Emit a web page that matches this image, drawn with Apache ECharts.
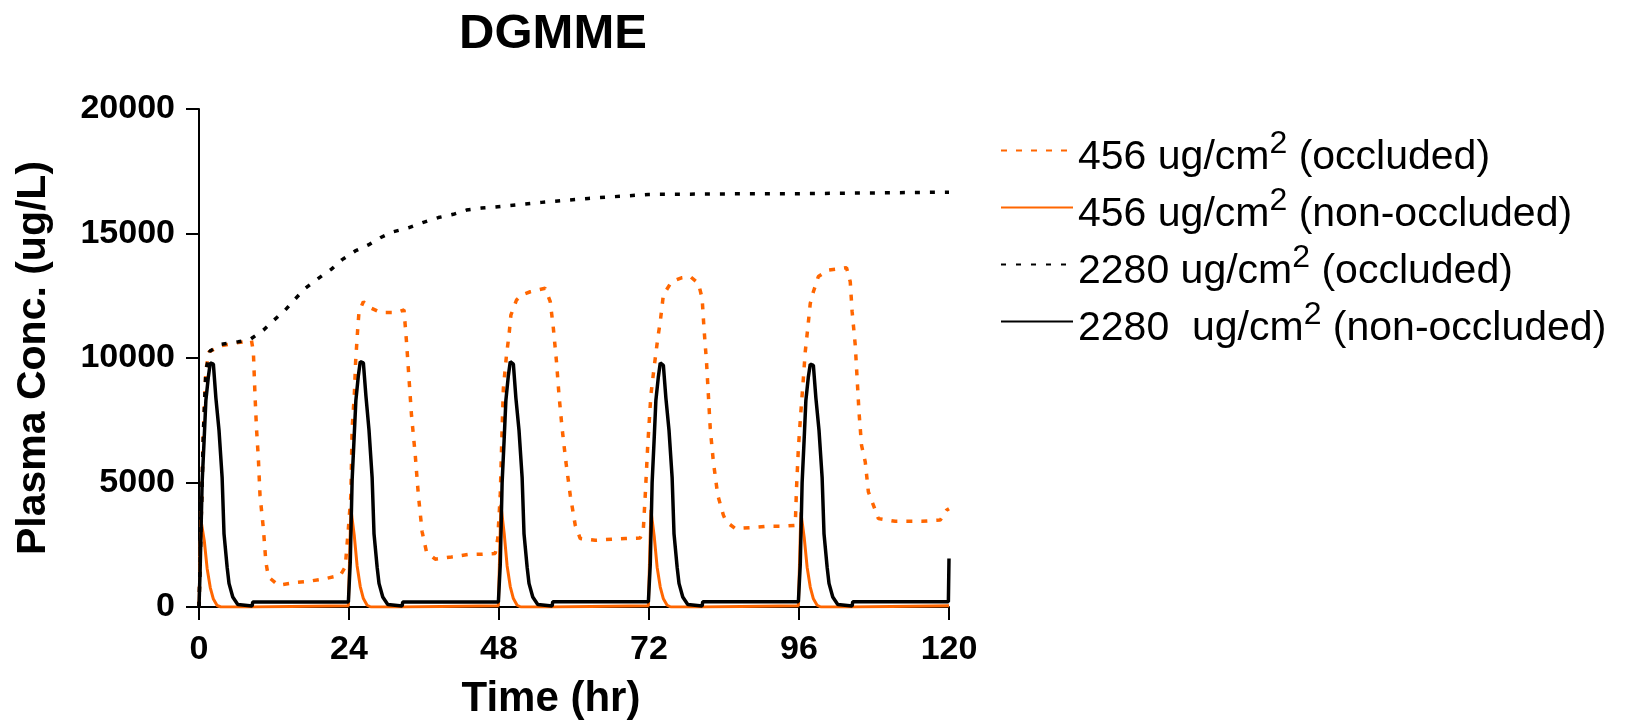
<!DOCTYPE html>
<html>
<head>
<meta charset="utf-8">
<title>DGMME</title>
<script src="https://cdn.jsdelivr.net/npm/echarts@6/dist/echarts.min.js"></script>
<style>
  html, body { margin: 0; padding: 0; background: #fff; }
  #chart_dgmme { width: 1628px; height: 726px; }
</style>
</head>
<body>
<div id="chart_dgmme"></div>
<script>
// series names (legend order)
const seriesNames = [
  '456 ug/cm2 (occluded)',
  '456 ug/cm2 (non-occluded)',
  '2280 ug/cm2 (occluded)',
  '2280  ug/cm2 (non-occluded)'
];

// x axis ticks (hr) / y axis ticks (ug/L)
const timeTicks = [0, 24, 48, 72, 96, 120];
const concTicks = [0, 5000, 10000, 15000, 20000];

// [time hr, conc ug/L]
const occluded456 = [
  [0, 0], [0.3, 3000], [0.7, 7000], [1.1, 9500], [1.6, 10250], [3.6, 10500], [6.3, 10620], [8.4, 10700],
  [8.7, 10250], [8.96, 8500], [9.2, 7170], [9.5, 5960], [9.76, 4490], [10.3, 3150], [10.7, 1810], [11.1, 1210],
  [12.7, 870], [15.4, 980], [17.5, 1030], [20.2, 1140], [22.6, 1270], [23.4, 1610], [23.9, 3150],
  [24.3, 4490], [24.5, 7170], [24.85, 8510], [25.06, 9850], [25.4, 11190], [25.6, 11860], [26.3, 12260],
  [27.1, 12060], [29.0, 11830], [31.6, 11830], [32.8, 11930], [33.2, 10650], [33.6, 9180], [34.0, 7700],
  [34.6, 6100], [35.1, 4490], [35.7, 3020], [36.4, 2210], [37.8, 1920], [40.4, 2010], [43.1, 2110],
  [45.2, 2120], [47.4, 2150], [47.8, 2750], [48.2, 4490], [48.5, 7170], [48.7, 8780], [49.2, 10120],
  [49.6, 10920], [49.9, 11720], [50.8, 12330], [51.6, 12530], [53.0, 12660], [55.4, 12800], [56.2, 12260],
  [56.7, 11190], [57.2, 9850], [57.6, 8510], [58.1, 7170], [58.7, 5830], [59.4, 4490], [60.2, 3280],
  [61.0, 2750], [63.4, 2680], [66.0, 2720], [68.2, 2750], [70.6, 2770], [71.1, 3150], [71.4, 4490],
  [71.8, 6500], [72.3, 8510], [72.8, 9580], [73.4, 10790], [73.8, 11460], [74.3, 12530], [75.6, 13060],
  [77.2, 13220], [78.6, 13270], [79.9, 13000], [80.5, 12400], [80.8, 11190], [81.2, 9850], [81.5, 8510],
  [81.8, 7170], [82.3, 5830], [83.0, 4490], [83.9, 3690], [84.4, 3420], [85.8, 3150], [88.4, 3190],
  [90.6, 3240], [93.2, 3240], [95.4, 3280], [95.6, 4760], [95.9, 6370], [96.3, 7840], [96.7, 9180],
  [97.0, 10250], [97.4, 11190], [97.8, 12190], [98.3, 12660], [99.1, 13270], [100.7, 13530], [103.6, 13630],
  [104.2, 13060], [104.5, 11860], [105.0, 10520], [105.3, 9180], [105.6, 7840], [106.0, 6500], [106.6, 5830],
  [107.1, 4620], [107.9, 4090], [108.7, 3550], [111.4, 3440], [115.6, 3440], [118.6, 3490], [119.6, 3890],
  [120, 3950]
];

const nonOccluded456 = [
  [0, 0], [0.3, 3500], [0.85, 2650], [1.3, 1550], [1.8, 780], [2.3, 320], [2.9, 60], [3.5, 0], [8.5, 0], [8.6, 50], [23.9, 50],
  [24, 60], [24.3, 3950], [24.85, 2850], [25.3, 1650], [25.8, 820], [26.3, 340], [26.9, 70], [27.5, 0], [32.5, 0], [32.6, 50], [47.9, 50],
  [48, 60], [48.3, 4100], [48.85, 2900], [49.3, 1650], [49.8, 820], [50.3, 340], [50.9, 70], [51.5, 0], [56.5, 0], [56.6, 50], [71.9, 50],
  [72, 60], [72.3, 3900], [72.85, 2800], [73.3, 1600], [73.8, 800], [74.3, 330], [74.9, 70], [75.5, 0], [80.5, 0], [80.6, 50], [95.9, 50],
  [96, 60], [96.3, 3800], [96.85, 2750], [97.3, 1600], [97.8, 800], [98.3, 330], [98.9, 70], [99.5, 0], [104.5, 0], [104.6, 50], [120, 50]
];

const occluded2280 = [
  [0, 0], [0.3, 3000], [0.7, 7000], [1.1, 9500], [1.76, 10280], [3.6, 10550], [6.3, 10650], [8.2, 10750],
  [10.3, 11120], [12.0, 11520], [13.8, 11930], [15.5, 12400], [17.0, 12800], [19.1, 13200], [21.2, 13570],
  [22.9, 13950], [25.0, 14300], [27.1, 14540], [29.0, 14830], [31.1, 15070], [33.5, 15230], [35.9, 15450],
  [38.3, 15640], [40.7, 15770], [42.8, 15940], [45.2, 16020], [47.4, 16060], [54.8, 16250], [62.3, 16410],
  [71.9, 16570], [84, 16590], [96, 16600], [108, 16630], [120, 16660]
];

const nonOccluded2280 = [
  [0, 0], [0.2, 1700], [0.5, 5000], [0.8, 6600], [1.1, 8300], [1.5, 9250], [1.8, 9800], [2.3, 9750], [2.7, 8400], [3.2, 7100],
  [3.7, 5200], [4.0, 2950], [4.5, 1600], [4.8, 950], [5.4, 400], [6.2, 100], [6.5, 40], [8.5, 40], [8.6, 200], [23.9, 200],
  [24, 250], [24.2, 1800], [24.5, 5100], [24.8, 6700], [25.1, 8300], [25.5, 9300], [25.8, 9850], [26.3, 9800], [26.7, 8500], [27.2, 7100],
  [27.7, 5200], [28.0, 2950], [28.5, 1600], [28.8, 950], [29.4, 400], [30.2, 100], [30.5, 40], [32.5, 40], [32.6, 200], [47.9, 200],
  [48, 250], [48.2, 1700], [48.5, 5000], [48.8, 6600], [49.1, 8300], [49.5, 9300], [49.8, 9850], [50.3, 9750], [50.7, 8400], [51.2, 7100],
  [51.7, 5200], [52.0, 2950], [52.5, 1600], [52.8, 950], [53.4, 400], [54.2, 100], [54.5, 40], [56.5, 40], [56.6, 210], [71.9, 210],
  [72, 260], [72.2, 1700], [72.5, 5000], [72.8, 6600], [73.1, 8300], [73.5, 9250], [73.8, 9800], [74.3, 9700], [74.7, 8400], [75.2, 7100],
  [75.7, 5200], [76.0, 2950], [76.5, 1600], [76.8, 950], [77.4, 400], [78.2, 100], [78.5, 40], [80.5, 40], [80.6, 210], [95.9, 210],
  [96, 260], [96.2, 1700], [96.5, 5000], [96.8, 6600], [97.1, 8300], [97.5, 9250], [97.8, 9750], [98.3, 9700], [98.7, 8400], [99.2, 7100],
  [99.7, 5200], [100.0, 2950], [100.5, 1600], [100.8, 950], [101.4, 400], [102.2, 100], [102.5, 40], [104.5, 40], [104.6, 210], [119.9, 210],
  [120, 1950]
];

const orange = '#ff6600';
const black = '#000000';
const fontFamily = '"Liberation Sans", Arial, sans-serif';

let chart = echarts.init(document.getElementById('chart_dgmme'));

// legend label: superscript 2 via rich text
const legendLabel = (name) => '{a|' + name.replace('cm2', 'cm}{s|2}{a|') + '}';

const option = {
  animation: false,
  backgroundColor: '#fff',
  title: {
    text: 'DGMME',
    left: 553,
    textAlign: 'center',
    top: 10,
    padding: 0,
    textStyle: { fontFamily: fontFamily, fontWeight: 'bold', fontSize: 49, color: black }
  },
  legend: {
    orient: 'vertical',
    left: 1000,
    top: 123,
    padding: 0,
    itemGap: 2,
    itemWidth: 72,
    itemHeight: 14,
    data: seriesNames,
    formatter: legendLabel,
    itemStyle: { opacity: 0 },
    textStyle: {
      color: black,
      rich: {
        a: { fontFamily: fontFamily, fontSize: 41, lineHeight: 40, padding: [14, 0, 0, 0], color: black },
        s: { fontFamily: fontFamily, fontSize: 32, lineHeight: 40, padding: [0, 0, 12, 0], color: black }
      }
    }
  },
  grid: { left: 199, right: 679, top: 109, bottom: 119 },
  xAxis: {
    type: 'value',
    min: timeTicks[0],
    max: timeTicks[timeTicks.length - 1],
    interval: 24,
    name: 'Time (hr)',
    nameLocation: 'middle',
    nameGap: 71,
    nameTextStyle: { fontFamily: fontFamily, fontWeight: 'bold', fontSize: 42, color: black, padding: [0, 46, 0, 0] },
    axisLine: { show: true, lineStyle: { color: black, width: 2 } },
    axisTick: { show: true, length: 13, lineStyle: { color: black, width: 2 } },
    axisLabel: { margin: 26, fontFamily: fontFamily, fontWeight: 'bold', fontSize: 34, color: black },
    splitLine: { show: false }
  },
  yAxis: {
    type: 'value',
    min: concTicks[0],
    max: concTicks[concTicks.length - 1],
    interval: 5000,
    name: 'Plasma Conc. (ug/L)',
    nameLocation: 'middle',
    nameGap: 145,
    nameTextStyle: { fontFamily: fontFamily, fontWeight: 'bold', fontSize: 41, color: black },
    axisLine: { show: true, lineStyle: { color: black, width: 2 } },
    axisTick: { show: true, length: 13, lineStyle: { color: black, width: 2 } },
    axisLabel: {
      margin: 24,
      fontFamily: fontFamily,
      fontWeight: 'bold',
      fontSize: 34,
      color: black,
      formatter: (v) => String(v)
    },
    splitLine: { show: false }
  },
  series: [
    {
      name: seriesNames[0],
      type: 'line',
      symbol: 'none',
      data: occluded456,
      lineStyle: { color: orange, width: 3.5, type: [6, 9] },
      itemStyle: { color: orange }
    },
    {
      name: seriesNames[1],
      type: 'line',
      symbol: 'none',
      data: nonOccluded456,
      lineStyle: { color: orange, width: 3 },
      itemStyle: { color: orange }
    },
    {
      name: seriesNames[2],
      type: 'line',
      symbol: 'none',
      data: occluded2280,
      lineStyle: { color: black, width: 3.5, type: [5, 10] },
      itemStyle: { color: black }
    },
    {
      name: seriesNames[3],
      type: 'line',
      symbol: 'none',
      data: nonOccluded2280,
      lineStyle: { color: black, width: 3.5 },
      itemStyle: { color: black }
    }
  ]
};

chart.setOption(option);

window.addEventListener('resize', () => {
  if (chart) {
    chart.resize();
  }
});
</script>
</body>
</html>
